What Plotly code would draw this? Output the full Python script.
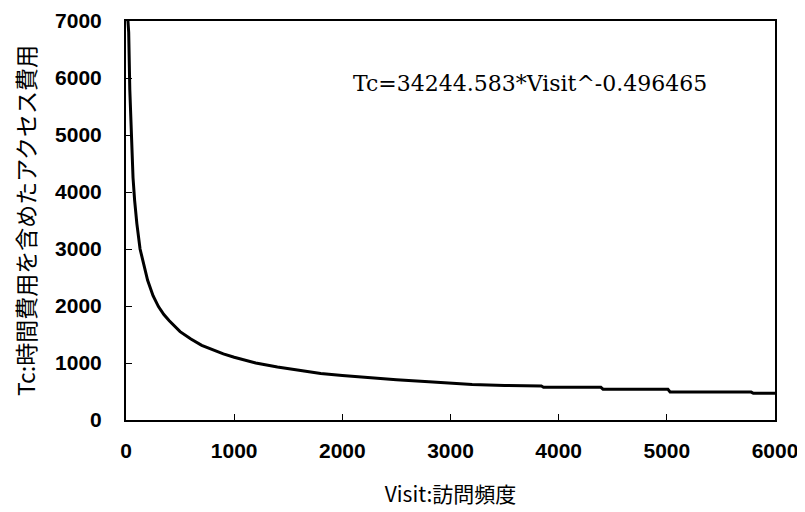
import plotly.graph_objects as go

visit = [18, 25, 35, 50, 65, 80, 100, 130, 160, 200, 250, 300, 350, 400, 500, 600, 700,
         800, 900, 1000, 1200, 1400, 1600, 1800, 2000, 2200, 2500, 2800, 3000, 3200,
         3500, 3840, 3860, 4390, 4410, 5010, 5030, 5780, 5800, 6000]
tc = [7000, 6800, 5800, 4850, 4250, 3850, 3450, 3000, 2750, 2450, 2180, 1990, 1850, 1740,
      1550, 1420, 1310, 1230, 1160, 1100, 1000, 930, 870, 815, 780, 745, 705, 670, 645, 625,
      605, 596, 575, 573, 540, 538, 492, 490, 470, 468]

x_ticks = [0, 1000, 2000, 3000, 4000, 5000, 6000]
y_ticks = [0, 1000, 2000, 3000, 4000, 5000, 6000, 7000]
equation = "Tc=34244.583*Visit^-0.496465"

fig = go.Figure()
fig.add_trace(go.Scatter(x=visit, y=tc, mode="lines",
                         line=dict(color="black", width=3), showlegend=False))

tickfont = dict(family="Liberation Sans, Arial, sans-serif", size=21, color="black",
                weight="bold")
fig.update_xaxes(range=[0, 6000], tickvals=x_ticks, ticks="inside", ticklen=6,
                 tickcolor="black", showline=True, linecolor="black", linewidth=2,
                 mirror=True, showgrid=False, zeroline=False, tickfont=tickfont,
                 ticklabelstandoff=11, automargin=False, ticklabeloverflow="allow",
                 title=dict(text="Visit:訪問頻度", standoff=26,
                            font=dict(family="Noto Sans CJK JP", size=21, color="black")))
fig.update_yaxes(range=[0, 7000], tickvals=y_ticks, ticks="inside", ticklen=6,
                 tickcolor="black", showline=True, linecolor="black", linewidth=2,
                 mirror=True, showgrid=False, zeroline=False, tickfont=tickfont,
                 ticklabelstandoff=18, automargin=False, ticklabeloverflow="allow",
                 title=dict(text="Tc:時間費用を含めたアクセス費用", standoff=18,
                            font=dict(family="Noto Sans CJK JP", size=23, color="black")))
fig.add_annotation(x=0.6225, y=5900, xref="paper", yref="y", text=equation,
                   showarrow=False, xanchor="center", yanchor="middle",
                   font=dict(family="DejaVu Serif, serif", size=22, color="black"))
fig.update_layout(width=797, height=504, plot_bgcolor="white", paper_bgcolor="white",
                  margin=dict(l=118, r=30, t=13, b=92))
fig.write_html("out.html")
